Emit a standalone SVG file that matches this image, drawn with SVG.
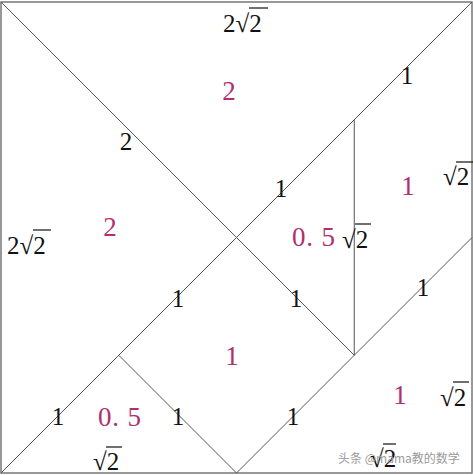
<svg xmlns="http://www.w3.org/2000/svg" width="473" height="475" viewBox="0 0 473 475">
<style>
.ln{stroke:#555;stroke-width:1;fill:none}
.bd{stroke:#777;stroke-width:1.5;fill:none}
.k{font-family:"Liberation Serif","DejaVu Serif",serif;font-size:25px;fill:#111}
.p{font-family:"Liberation Serif","DejaVu Serif",serif;font-size:27px;fill:#b0306e}
.m{text-anchor:middle}
.bar{stroke:#111;stroke-width:1.2}
.wm{font-family:"Noto Sans CJK SC",sans-serif;font-size:12px;fill:#9a9a9a}
</style>
<rect width="473" height="475" fill="#fff"/>
<g id="pieces">
<rect class="bd" x="1" y="2" width="471" height="471"/>
<path class="ln" d="M1 2 L354.25 355.25"/>
<path class="ln" d="M1 473 L472 2"/>
<path class="ln" d="M118.75 355.25 L236.5 473 L472 237.5"/>
<path class="ln" d="M354.25 119.75 L354.25 355.25"/>
</g>
<g id="edge-labels">
<text class="k" x="223" y="32">2√2</text><line class="bar" x1="249" y1="8" x2="268" y2="8"/>
<text class="k" x="7" y="254">2√2</text><line class="bar" x1="33" y1="230" x2="51" y2="230"/>
<text class="k" x="443" y="185">√2</text><line class="bar" x1="456" y1="162" x2="473" y2="162"/>
<text class="k" x="342" y="248">√2</text><line class="bar" x1="355" y1="224" x2="371" y2="224"/>
<text class="k" x="440" y="406">√2</text><line class="bar" x1="453" y1="382" x2="469" y2="382"/>
<text class="k" x="93" y="470">√2</text><line class="bar" x1="106" y1="447" x2="122" y2="447"/>
<text class="k" x="370" y="467">√2</text><line class="bar" x1="383" y1="444" x2="396" y2="444"/>
<text class="k m" x="126" y="150">2</text>
<text class="k m" x="407" y="84">1</text>
<text class="k m" x="281" y="197">1</text>
<text class="k m" x="178" y="307">1</text>
<text class="k m" x="296" y="307">1</text>
<text class="k m" x="423" y="296">1</text>
<text class="k m" x="58" y="425">1</text>
<text class="k m" x="178" y="425">1</text>
<text class="k m" x="293" y="425">1</text>
</g>
<g id="area-labels">
<text class="p m" x="229" y="100">2</text>
<text class="p m" x="110" y="236">2</text>
<text class="p m" x="408" y="195">1</text>
<text class="p" x="292" y="246" textLength="43">0. 5</text>
<text class="p m" x="232" y="365">1</text>
<text class="p m" x="400" y="404">1</text>
<text class="p" x="98" y="426" textLength="43">0. 5</text>
</g>
<text class="wm" x="338" y="463">头条 @mama教的数学</text>
</svg>
